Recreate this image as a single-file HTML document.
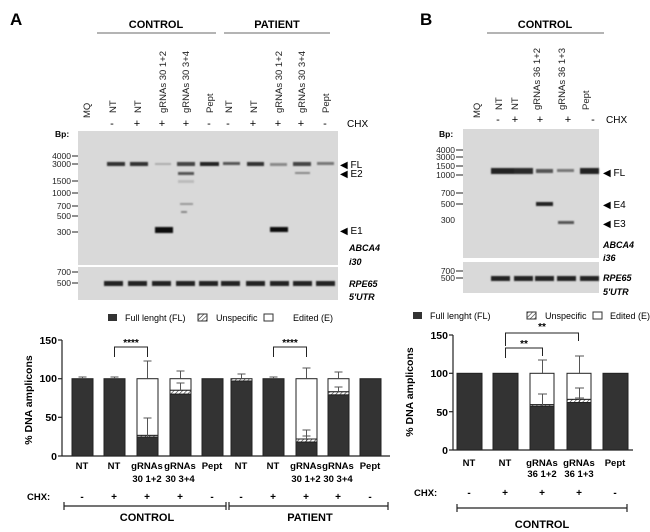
<!DOCTYPE html>
<html><head><meta charset="utf-8"><style>html,body{margin:0;padding:0;background:#fff}svg{display:block}</style></head>
<body>
<svg width="650" height="532" viewBox="0 0 650 532" xmlns="http://www.w3.org/2000/svg" font-family="Liberation Sans, sans-serif">
<defs>
<filter id="bl" x="-20%" y="-100%" width="140%" height="300%"><feGaussianBlur stdDeviation="0.8"/></filter>
<pattern id="hat" width="3" height="3" patternUnits="userSpaceOnUse" patternTransform="rotate(45)"><rect width="3" height="3" fill="#fff"/><line x1="0" y1="0" x2="0" y2="3" stroke="#333" stroke-width="1.2"/></pattern>
</defs>
<!-- ========== PANEL A GEL ========== -->
<text x="10" y="25" font-size="17" font-weight="bold">A</text>
<text x="156" y="28" font-size="11" font-weight="bold" text-anchor="middle">CONTROL</text>
<line x1="97" y1="33" x2="216" y2="33" stroke="#888" stroke-width="1.2"/>
<text x="277" y="28" font-size="11" font-weight="bold" text-anchor="middle">PATIENT</text>
<line x1="224" y1="33" x2="330" y2="33" stroke="#888" stroke-width="1.2"/>
<g font-size="9.5" fill="#222">
<text transform="translate(90,118) rotate(-90)">MQ</text>
<text transform="translate(116,113) rotate(-90)">NT</text>
<text transform="translate(141,113) rotate(-90)">NT</text>
<text transform="translate(166,113) rotate(-90)">gRNAs 30 1+2</text>
<text transform="translate(189,113) rotate(-90)">gRNAs 30 3+4</text>
<text transform="translate(213,113) rotate(-90)">Pept</text>
<text transform="translate(232,113) rotate(-90)">NT</text>
<text transform="translate(257,113) rotate(-90)">NT</text>
<text transform="translate(282,113) rotate(-90)">gRNAs 30 1+2</text>
<text transform="translate(305,113) rotate(-90)">gRNAs 30 3+4</text>
<text transform="translate(329,113) rotate(-90)">Pept</text>
</g>
<g font-size="11" text-anchor="middle">
<text x="112" y="127">-</text><text x="137" y="127">+</text><text x="162" y="127">+</text><text x="186" y="127">+</text><text x="209" y="127">-</text>
<text x="228" y="127">-</text><text x="253" y="127">+</text><text x="278" y="127">+</text><text x="301" y="127">+</text><text x="325" y="127">-</text>
</g>
<text x="347" y="127" font-size="10">CHX</text>
<text x="55" y="137" font-size="8.5" font-weight="bold">Bp:</text>
<rect x="78" y="131" width="260" height="134" fill="#d9d9d9"/>
<rect x="78" y="267" width="260" height="33" fill="#d9d9d9"/>
<g font-size="8.5" text-anchor="end" fill="#222">
<text x="71" y="159">4000</text><text x="71" y="167">3000</text><text x="71" y="184">1500</text><text x="71" y="196">1000</text><text x="71" y="209">700</text><text x="71" y="219">500</text><text x="71" y="235">300</text>
<text x="71" y="275">700</text><text x="71" y="286">500</text>
</g>
<g stroke="#222" stroke-width="1">
<line x1="72" y1="156" x2="78" y2="156"/><line x1="72" y1="164" x2="78" y2="164"/><line x1="72" y1="181" x2="78" y2="181"/><line x1="72" y1="193" x2="78" y2="193"/><line x1="72" y1="206" x2="78" y2="206"/><line x1="72" y1="216" x2="78" y2="216"/><line x1="72" y1="232" x2="78" y2="232"/><line x1="72" y1="272" x2="78" y2="272"/><line x1="72" y1="283" x2="78" y2="283"/>
</g>
<g filter="url(#bl)">
<rect x="107" y="162" width="18" height="4" fill="#333"/>
<rect x="130" y="162" width="18" height="4" fill="#333"/>
<rect x="155" y="163" width="16" height="2" fill="#aaa"/>
<rect x="177" y="162" width="18" height="4" fill="#444"/>
<rect x="200" y="162" width="19" height="4" fill="#222"/>
<rect x="223" y="162" width="17" height="3" fill="#555"/>
<rect x="247" y="162" width="17" height="4" fill="#333"/>
<rect x="270" y="163" width="17" height="3" fill="#888"/>
<rect x="293" y="162" width="18" height="4" fill="#444"/>
<rect x="317" y="162" width="17" height="3" fill="#777"/>
<rect x="178" y="172" width="16" height="3" fill="#555"/>
<rect x="178" y="180" width="16" height="3" fill="#bbb"/>
<rect x="180" y="203" width="13" height="2" fill="#999"/>
<rect x="181" y="211" width="6" height="2" fill="#888"/>
<rect x="295" y="172" width="15" height="2" fill="#888"/>
<rect x="155" y="227" width="18" height="6" fill="#111"/>
<rect x="270" y="227" width="18" height="5" fill="#111"/>
<g fill="#222">
<rect x="104" y="281" width="19" height="5"/><rect x="128" y="281" width="19" height="5"/><rect x="152" y="281" width="19" height="5"/><rect x="176" y="281" width="19" height="5"/><rect x="199" y="281" width="19" height="5"/><rect x="221" y="281" width="19" height="5"/><rect x="246" y="281" width="19" height="5"/><rect x="270" y="281" width="19" height="5"/><rect x="293" y="281" width="19" height="5"/><rect x="316" y="281" width="19" height="5"/>
</g>
</g>
<g font-size="10">
<text x="340" y="168">◀ FL</text><text x="340" y="177">◀ E2</text><text x="340" y="234">◀ E1</text>
</g>
<g font-size="9" font-weight="bold" font-style="italic">
<text x="349" y="251">ABCA4</text><text x="349" y="265">i30</text><text x="349" y="287">RPE65</text><text x="349" y="300">5'UTR</text>
</g>
<!-- ========== PANEL A CHART ========== -->
<g font-size="9">
<rect x="108" y="314" width="9" height="7" fill="#333"/><text x="125" y="321">Full lenght (FL)</text>
<rect x="198" y="314" width="9" height="7" fill="url(#hat)" stroke="#333"/><text x="216" y="321">Unspecific</text>
<rect x="264" y="314" width="9" height="7" fill="#fff" stroke="#333"/><text x="293" y="321">Edited (E)</text>
</g>
<text transform="translate(32,400) rotate(-90)" font-size="10.5" font-weight="bold" text-anchor="middle">% DNA amplicons</text>
<g font-size="10.5" font-weight="bold" text-anchor="end">
<text x="57" y="344">150</text><text x="57" y="382">100</text><text x="57" y="421">50</text><text x="57" y="460">0</text>
</g>
<g stroke="#222" stroke-width="1.2">
<line x1="62" y1="340" x2="62" y2="456"/><line x1="58" y1="340" x2="62" y2="340"/><line x1="58" y1="378.7" x2="62" y2="378.7"/><line x1="58" y1="417.3" x2="62" y2="417.3"/><line x1="58" y1="456" x2="62" y2="456"/>
<line x1="62" y1="456" x2="390" y2="456"/>
</g>
<!-- bars: y(v)=456-0.7733*v -->
<g stroke="#222" stroke-width="1">
<rect x="72" y="378.7" width="21" height="77.3" fill="#333"/>
<rect x="104" y="378.7" width="21" height="77.3" fill="#333"/>
<rect x="137" y="378.7" width="21" height="56.7" fill="#fff"/>
<rect x="137" y="435.4" width="21" height="1.6" fill="url(#hat)"/>
<rect x="137" y="437" width="21" height="19" fill="#333"/>
<rect x="170" y="378.7" width="21" height="11.6" fill="#fff"/>
<rect x="170" y="390.3" width="21" height="3.9" fill="url(#hat)"/>
<rect x="170" y="394.2" width="21" height="61.8" fill="#333"/>
<rect x="202" y="378.7" width="21" height="77.3" fill="#333"/>
<rect x="231" y="378.7" width="21" height="2.3" fill="url(#hat)"/>
<rect x="231" y="381" width="21" height="75" fill="#333"/>
<rect x="263" y="378.7" width="21" height="77.3" fill="#333"/>
<rect x="296" y="378.7" width="21" height="60.3" fill="#fff"/>
<rect x="296" y="439" width="21" height="3.1" fill="url(#hat)"/>
<rect x="296" y="442.1" width="21" height="13.9" fill="#333"/>
<rect x="328" y="378.7" width="21" height="13.1" fill="#fff"/>
<rect x="328" y="391.8" width="21" height="3.1" fill="url(#hat)"/>
<rect x="328" y="394.9" width="21" height="61.1" fill="#333"/>
<rect x="360" y="378.7" width="21" height="77.3" fill="#333"/>
</g>
<g stroke="#555" stroke-width="1" fill="none">
<path d="M82.5 378.7V377M78.5 377H86.5"/>
<path d="M114.5 378.7V377M110.5 377H118.5"/>
<path d="M147.5 378.7V361M143.5 361H151.5"/>
<path d="M147.5 437V418M143.5 418H151.5"/>
<path d="M180.5 378.7V371M176.5 371H184.5M180.5 390V383M176.5 383H184.5"/>
<path d="M241.5 378.7V374M237.5 374H245.5"/>
<path d="M273.5 378.7V377M269.5 377H277.5"/>
<path d="M306.5 378.7V368M302.5 368H310.5M306.5 442V430M302.5 430H310.5M306.5 439V436M302.5 436H310.5"/>
<path d="M338.5 378.7V372M334.5 372H342.5M338.5 391V387M334.5 387H342.5"/>
</g>
<g stroke="#222" stroke-width="1" fill="none">
<path d="M114.5 357V347H147.5V357"/><path d="M273.5 357V347H306.5V357"/>
</g>
<g font-size="10" font-weight="bold" text-anchor="middle">
<text x="131" y="346">****</text><text x="290" y="346">****</text>
</g>
<g font-size="9.5" font-weight="bold" text-anchor="middle">
<text x="82" y="469">NT</text><text x="114" y="469">NT</text><text x="147" y="469">gRNAs</text><text x="180" y="469">gRNAs</text><text x="212" y="469">Pept</text>
<text x="147" y="482">30 1+2</text><text x="180" y="482">30 3+4</text>
<text x="241" y="469">NT</text><text x="273" y="469">NT</text><text x="306" y="469">gRNAs</text><text x="338" y="469">gRNAs</text><text x="370" y="469">Pept</text>
<text x="306" y="482">30 1+2</text><text x="338" y="482">30 3+4</text>
</g>
<text x="27" y="500" font-size="9.5" font-weight="bold">CHX:</text>
<g font-size="10" font-weight="bold" text-anchor="middle">
<text x="82" y="500">-</text><text x="114" y="500">+</text><text x="147" y="500">+</text><text x="180" y="500">+</text><text x="212" y="500">-</text>
<text x="241" y="500">-</text><text x="273" y="500">+</text><text x="306" y="500">+</text><text x="338" y="500">+</text><text x="370" y="500">-</text>
</g>
<g stroke="#222" stroke-width="1.2">
<path d="M64 506H226M64 502V510M226 502V510M229 506H388M229 502V510M388 502V510"/>
</g>
<g font-size="11" font-weight="bold" text-anchor="middle">
<text x="147" y="521">CONTROL</text><text x="310" y="521">PATIENT</text>
</g>
<!-- ========== PANEL B GEL ========== -->
<text x="420" y="25" font-size="17" font-weight="bold">B</text>
<text x="545" y="28" font-size="11" font-weight="bold" text-anchor="middle">CONTROL</text>
<line x1="487" y1="33" x2="604" y2="33" stroke="#888" stroke-width="1.2"/>
<g font-size="9.5" fill="#222">
<text transform="translate(480,118) rotate(-90)">MQ</text>
<text transform="translate(502,110) rotate(-90)">NT</text>
<text transform="translate(518,110) rotate(-90)">NT</text>
<text transform="translate(540,110) rotate(-90)">gRNAs 36 1+2</text>
<text transform="translate(565,110) rotate(-90)">gRNAs  36 1+3</text>
<text transform="translate(589,110) rotate(-90)">Pept</text>
</g>
<g font-size="11" text-anchor="middle">
<text x="498" y="123">-</text><text x="515" y="123">+</text><text x="540" y="123">+</text><text x="568" y="123">+</text><text x="593" y="123">-</text>
</g>
<text x="606" y="123" font-size="10">CHX</text>
<text x="439" y="137" font-size="8.5" font-weight="bold">Bp:</text>
<rect x="463" y="129" width="136" height="129" fill="#d9d9d9"/>
<rect x="463" y="262" width="136" height="31" fill="#d9d9d9"/>
<g font-size="8.5" text-anchor="end" fill="#222">
<text x="455" y="153">4000</text><text x="455" y="160">3000</text><text x="455" y="169">1500</text><text x="455" y="178">1000</text><text x="455" y="196">700</text><text x="455" y="207">500</text><text x="455" y="223">300</text>
<text x="455" y="274">700</text><text x="455" y="281">500</text>
</g>
<g stroke="#222" stroke-width="1">
<line x1="456" y1="150" x2="463" y2="150"/><line x1="456" y1="157" x2="463" y2="157"/><line x1="456" y1="166" x2="463" y2="166"/><line x1="456" y1="175" x2="463" y2="175"/><line x1="456" y1="193" x2="463" y2="193"/><line x1="456" y1="204" x2="463" y2="204"/><line x1="456" y1="271" x2="463" y2="271"/><line x1="456" y1="278" x2="463" y2="278"/>
</g>
<g filter="url(#bl)">
<rect x="491" y="168" width="26" height="6" fill="#222"/>
<rect x="514" y="168" width="19" height="6" fill="#2a2a2a"/>
<rect x="536" y="169" width="17" height="4" fill="#555"/>
<rect x="557" y="169" width="17" height="3" fill="#777"/>
<rect x="580" y="168" width="19" height="6" fill="#222"/>
<rect x="536" y="202" width="17" height="4" fill="#222"/>
<rect x="558" y="221" width="16" height="3" fill="#555"/>
<g fill="#222">
<rect x="491" y="276" width="19" height="5"/><rect x="514" y="276" width="19" height="5"/><rect x="535" y="276" width="19" height="5"/><rect x="557" y="276" width="19" height="5"/><rect x="580" y="276" width="19" height="5"/>
</g>
</g>
<g font-size="10">
<text x="603" y="176">◀ FL</text><text x="603" y="208">◀ E4</text><text x="603" y="227">◀ E3</text>
</g>
<g font-size="9" font-weight="bold" font-style="italic">
<text x="603" y="248">ABCA4</text><text x="603" y="261">i36</text><text x="603" y="281">RPE65</text><text x="603" y="295">5'UTR</text>
</g>
<!-- ========== PANEL B CHART ========== -->
<g font-size="9">
<rect x="413" y="312" width="9" height="7" fill="#333"/><text x="430" y="319">Full lenght (FL)</text>
<rect x="527" y="312" width="9" height="7" fill="url(#hat)" stroke="#333"/><text x="545" y="319">Unspecific</text>
<rect x="593" y="312" width="9" height="7" fill="#fff" stroke="#333"/><text x="610" y="319">Edited (E)</text>
</g>
<text transform="translate(413,392) rotate(-90)" font-size="10.5" font-weight="bold" text-anchor="middle">% DNA amplicons</text>
<g font-size="10.5" font-weight="bold" text-anchor="end">
<text x="448" y="339">150</text><text x="448" y="377">100</text><text x="448" y="416">50</text><text x="448" y="454">0</text>
</g>
<g stroke="#222" stroke-width="1.2">
<line x1="453" y1="335" x2="453" y2="450"/><line x1="449" y1="335" x2="453" y2="335"/><line x1="449" y1="373.3" x2="453" y2="373.3"/><line x1="449" y1="411.7" x2="453" y2="411.7"/><line x1="449" y1="450" x2="453" y2="450"/>
<line x1="453" y1="450" x2="633" y2="450"/>
</g>
<!-- y(v)=450-0.7667*v -->
<g stroke="#222" stroke-width="1">
<rect x="457" y="373.3" width="25" height="76.7" fill="#333"/>
<rect x="493" y="373.3" width="25" height="76.7" fill="#333"/>
<rect x="530" y="373.3" width="24" height="31.4" fill="#fff"/>
<rect x="530" y="404.7" width="24" height="1.6" fill="url(#hat)"/>
<rect x="530" y="406.3" width="24" height="43.7" fill="#333"/>
<rect x="567" y="373.3" width="24" height="26.1" fill="#fff"/>
<rect x="567" y="399.4" width="24" height="3.1" fill="url(#hat)"/>
<rect x="567" y="402.5" width="24" height="47.5" fill="#333"/>
<rect x="603" y="373.3" width="25" height="76.7" fill="#333"/>
</g>
<g stroke="#555" stroke-width="1" fill="none">
<path d="M542.5 373V360M538 360H547M542.5 406V394M538 394H547"/>
<path d="M579.5 373V356M575 356H584M579.5 399V388M575 388H584M579.5 402V398M575 398H584"/>
</g>
<g stroke="#222" stroke-width="1" fill="none">
<path d="M505.5 358V348H542.5V356"/><path d="M505.5 346V333H578.5V341"/>
</g>
<g font-size="10" font-weight="bold" text-anchor="middle">
<text x="524" y="347">**</text><text x="542" y="330">**</text>
</g>
<g font-size="9.5" font-weight="bold" text-anchor="middle">
<text x="469" y="466">NT</text><text x="505" y="466">NT</text><text x="542" y="466">gRNAs</text><text x="579" y="466">gRNAs</text><text x="615" y="466">Pept</text>
<text x="542" y="477">36 1+2</text><text x="579" y="477">36 1+3</text>
</g>
<text x="414" y="496" font-size="9.5" font-weight="bold">CHX:</text>
<g font-size="10" font-weight="bold" text-anchor="middle">
<text x="469" y="496">-</text><text x="505" y="496">+</text><text x="542" y="496">+</text><text x="579" y="496">+</text><text x="615" y="496">-</text>
</g>
<path d="M457 508H627M457 504V512M627 504V512" stroke="#222" stroke-width="1.2"/>
<text x="542" y="528" font-size="11" font-weight="bold" text-anchor="middle">CONTROL</text>
</svg>
</body></html>
